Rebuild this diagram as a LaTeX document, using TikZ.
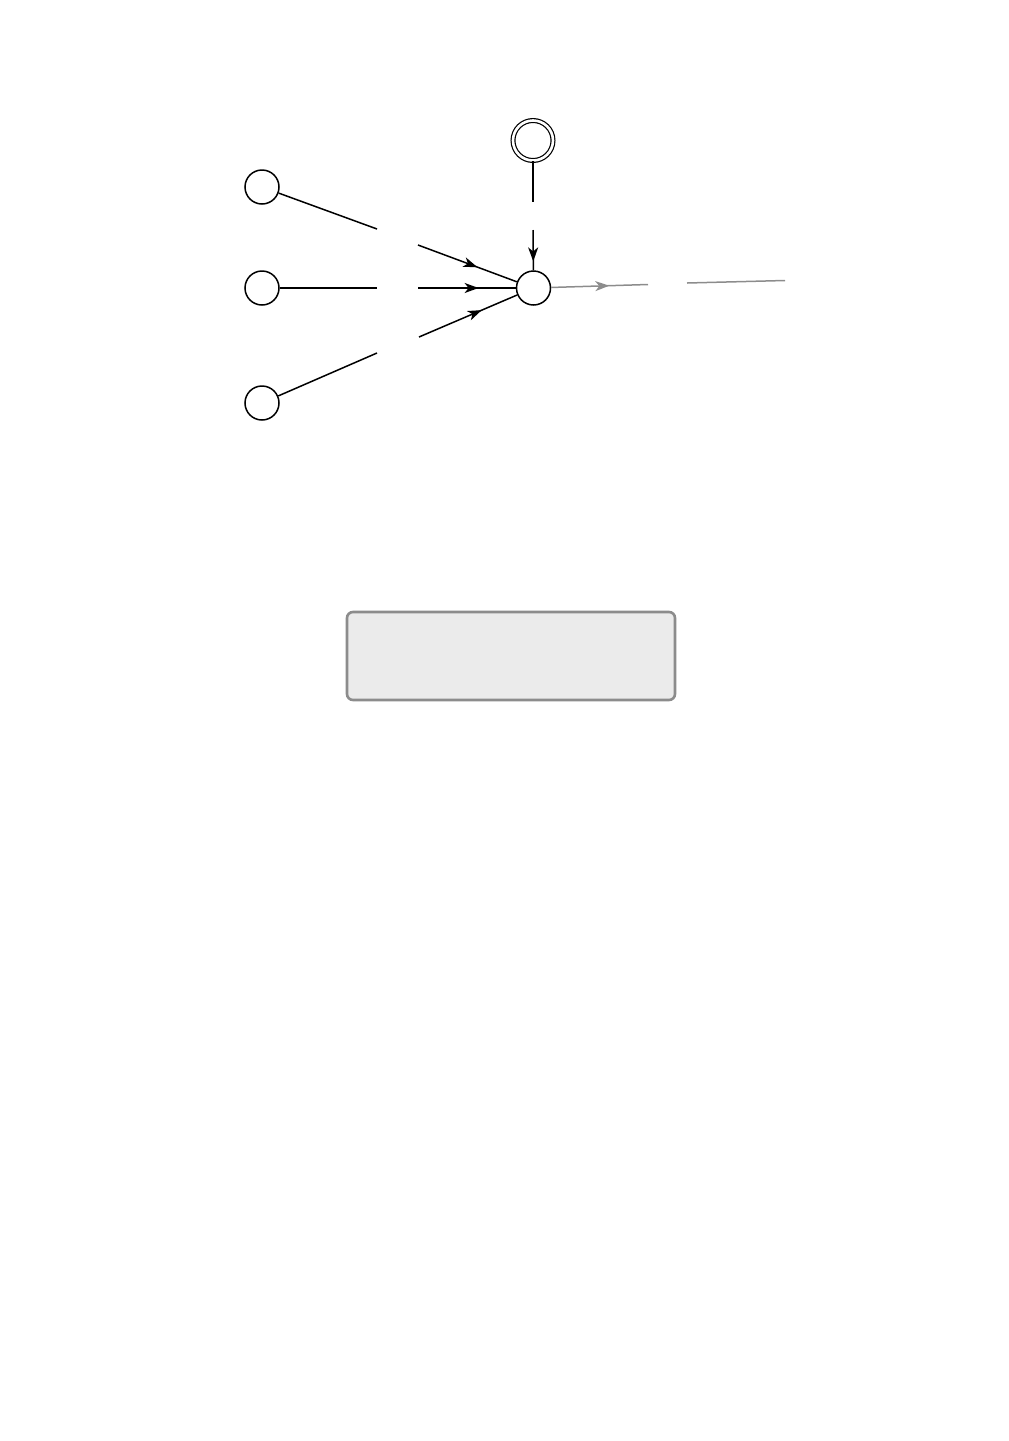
\documentclass[tikz,border=0pt]{standalone}
\usetikzlibrary{arrows.meta,decorations.markings}
\begin{document}
\begin{tikzpicture}[x=1pt,y=-1pt,
  unit/.style={circle,draw=black,line width=1.5pt,minimum size=34pt,inner sep=0pt,fill=white},
  bias/.style={circle,draw=black,line width=1.2pt,double=white,double distance=2.6pt,minimum size=40pt,inner sep=0pt},
  wire/.style={line width=1.5pt,black},
  gwire/.style={line width=1.5pt,draw=gray!90},
  arrowat/.style={postaction={decorate},decoration={markings,mark=at position #1 with {\arrow{Stealth[length=14pt,width=10pt,inset=4pt]}}}},
  panel/.style={draw=gray!90,line width=2.6pt,fill=black!8,rounded corners=6pt}]
\useasboundingbox (0,0) rectangle (1009,1441);
% nodes
\node[unit] (x1) at (262,187) {};
\node[unit] (x2) at (262,288) {};
\node[unit] (x3) at (262,403) {};
\node[unit] (s) at (533.5,288) {};
\node[bias] (b) at (533,140.5) {};
% gap coordinates
\coordinate (g1a) at (377,229);
\coordinate (g1b) at (418,245);
\coordinate (g2a) at (377,288);
\coordinate (g2b) at (418,288);
\coordinate (g3a) at (377,353);
\coordinate (g3b) at (419,337);
\coordinate (gba) at (533,202);
\coordinate (gbb) at (533,230);
\coordinate (goa) at (648,284.5);
\coordinate (gob) at (687,283);
\coordinate (oe) at (785,280.5);
% connectors
\draw[wire] (x1) -- (g1a);
\draw[wire,arrowat=0.6] (g1b) -- (s);
\draw[wire] (x2) -- (g2a);
\draw[wire,arrowat=0.62] (g2b) -- (s);
\draw[wire] (x3) -- (g3a);
\draw[wire,arrowat=0.64] (g3b) -- (s);
\draw[wire] (b) -- (gba);
\draw[wire,arrowat=0.78] (gbb) -- (s);
\draw[gwire,arrowat=0.6,color=gray!90] (s) -- (goa);
\draw[gwire] (gob) -- (oe);
% panel
\node[panel,minimum width=328pt,minimum height=88pt] (p) at (511,656) {};
\end{tikzpicture}
\end{document}
